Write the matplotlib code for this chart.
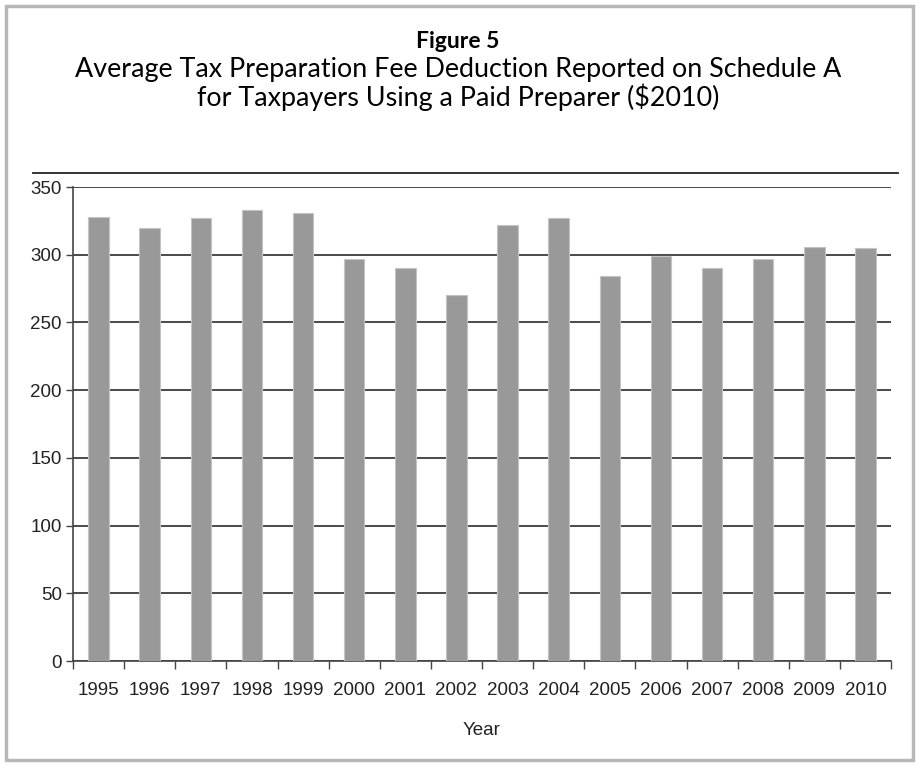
import matplotlib
matplotlib.use('Agg')

import numpy as np
import matplotlib.pyplot as plt
from matplotlib.patches import Rectangle
from matplotlib.lines import Line2D

years = ['1995', '1996', '1997', '1998', '1999', '2000', '2001', '2002',
         '2003', '2004', '2005', '2006', '2007', '2008', '2009', '2010']
fees = [328, 320, 327, 333, 331, 297, 290, 270,
        322, 327, 284, 299, 290, 297, 306, 305]
yticks = [0, 50, 100, 150, 200, 250, 300, 350]

W, H = 916, 766
fig = plt.figure(figsize=(W / 100, H / 100), dpi=100)

# outer grey frame
fig.patches.append(Rectangle((6 / W, 6 / H), 907 / W, 754 / H, transform=fig.transFigure,
                             fill=False, edgecolor='#b8b8b8', linewidth=2.5))

tfont = ['Lato', 'DejaVu Sans']
fig.text(0.5, 1 - 42 / H, 'Figure 5', ha='center', va='center',
         fontsize=16.5, fontweight='bold', family=tfont)
fig.text(0.5, 1 - 69 / H, 'Average Tax Preparation Fee Deduction Reported on Schedule A',
         ha='center', va='center', fontsize=19.4, family=tfont)
fig.text(0.5, 1 - 97 / H, 'for Taxpayers Using a Paid Preparer ($2010)',
         ha='center', va='center', fontsize=19.4, family=tfont)
fig.lines.append(Line2D([33 / W, 898 / W], [1 - 173 / H, 1 - 173 / H],
                        transform=fig.transFigure, color='#222222', linewidth=1.3))

ax = fig.add_axes([73 / W, (H - 661) / H, 818 / W, 474 / H])
x = np.arange(len(years))
ax.bar(x, fees, width=0.4, color='#999999', edgecolor='#c4c4c4', linewidth=0.8, zorder=3)

ax.set_xlim(-0.5, len(years) - 0.5)
ax.set_ylim(0, 350)
ax.set_yticks(yticks)
ax.yaxis.grid(True, color='#2a2a2a', linewidth=1.2, zorder=1)
ax.set_axisbelow(True)

ax.set_xticks(x)
ax.set_xticklabels(years)
ax.set_xticks(np.arange(-0.5, len(years), 1), minor=True)
ax.tick_params(axis='x', which='major', length=0, pad=15, labelsize=13.5)
ax.tick_params(axis='x', which='minor', length=6, width=1, color='#444444', direction='out')
ax.tick_params(axis='y', length=5, width=1, color='#444444', labelsize=13.5, pad=3)

for lab in ax.get_xticklabels() + ax.get_yticklabels():
    lab.set_family(['Liberation Sans', 'DejaVu Sans'])
    lab.set_color('#222222')

for s in ['top', 'right']:
    ax.spines[s].set_visible(False)
for s in ['left', 'bottom']:
    ax.spines[s].set_color('#444444')
    ax.spines[s].set_linewidth(1.2)

ax.set_xlabel('Year', fontsize=13.5, family=['Liberation Sans', 'DejaVu Sans'],
              color='#222222', labelpad=17)

fig.savefig('out.png', dpi=100)
